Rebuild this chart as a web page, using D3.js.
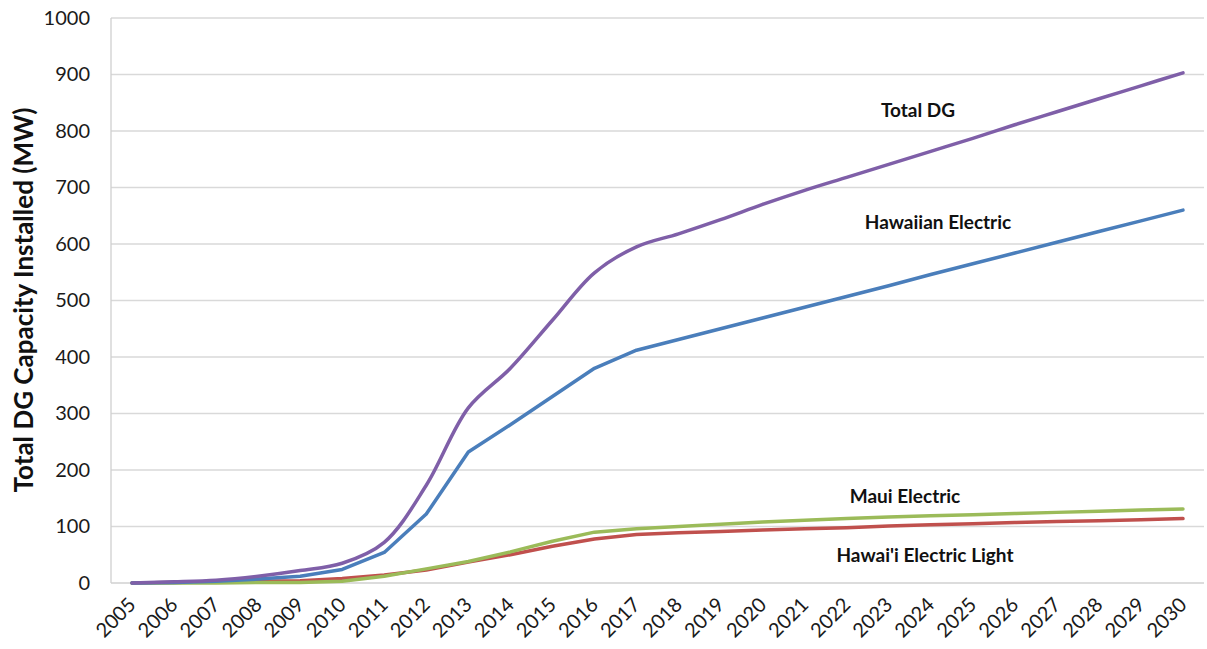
<!DOCTYPE html>
<html><head><meta charset="utf-8">
<script src="https://cdn.jsdelivr.net/npm/d3@7"></script>
<style>body{margin:0;background:#fff;}svg{display:block;}</style>
</head><body>
<svg id="c" width="1207" height="649"></svg>
<script>
const years = d3.range(2005, 2031).map(String);
const totalDG = [0,2,5,12,22,35,72,173,310,380,465,549,595,618,643,670,695,718,741,764,787,811,834,857,880,903];
const hawaiianElectric = [0,1,3,7,12,24,54,122,232,280,330,380,412,431,450,469,488,507,526,546,565,584,603,622,641,660];
const mauiElectric = [0,0,0,1,1,3,12,25,38,55,74,90,96,100,104,108,111,114,117,119,121,123,125,127,129,131];
const hawaiiElectricLight = [0,1,2,3,4,8,14,23,37,50,65,78,86,89,91,94,96,98,101,103,105,107,109,110,112,114];
const yTicks = [0,100,200,300,400,500,600,700,800,900,1000];

const svg = d3.select('#c');
const L=111, R=1204, T=18, B=583;
const x = d3.scaleBand().domain(years).range([L,R]);
const y = d3.scaleLinear().domain([0,1000]).range([B,T]);
const font = "Lato, 'Open Sans', sans-serif";

// gridlines
svg.append('g').selectAll('line').data(yTicks.slice(1)).join('line')
  .attr('x1',L).attr('x2',R).attr('y1',d=>y(d)).attr('y2',d=>y(d))
  .attr('stroke','#d9d9d9').attr('stroke-width',1.3);

// axes lines
svg.append('line').attr('x1',L).attr('x2',L).attr('y1',T).attr('y2',B).attr('stroke','#d0d0d0').attr('stroke-width',1.3);
svg.append('line').attr('x1',L).attr('x2',R).attr('y1',B).attr('y2',B).attr('stroke','#d0d0d0').attr('stroke-width',1.3);

// y axis labels
const ya = svg.append('g').attr('transform',`translate(${L},0)`)
  .call(d3.axisLeft(y).tickValues(yTicks).tickFormat(d3.format('d')).tickSize(0).tickPadding(21));
ya.select('.domain').remove();
ya.selectAll('text').attr('font-family',font).attr('font-size',20).attr('fill','#1a1a1a');

// x axis labels
const xa = svg.append('g').attr('transform',`translate(0,${B})`)
  .call(d3.axisBottom(x).tickSize(0).tickPadding(0));
xa.select('.domain').remove();
xa.selectAll('text').attr('font-family',font).attr('font-size',20).attr('fill','#1a1a1a')
  .attr('text-anchor','end').attr('dy',0).attr('y',0)
  .attr('transform','translate(5,23) rotate(-45)');

// y title
svg.append('text').attr('transform','translate(33,300) rotate(-90)')
  .attr('text-anchor','middle').attr('font-family',font).attr('font-weight','bold')
  .attr('font-size',26).attr('fill','#111').text('Total DG Capacity Installed (MW)');

const cx = d => x(d)+x.bandwidth()/2;
const series = [
  {vals:mauiElectric,color:'#9bbb59',curve:d3.curveLinear},
  {vals:hawaiiElectricLight,color:'#c0504d',curve:d3.curveLinear},
  {vals:hawaiianElectric,color:'#4a7ebb',curve:d3.curveLinear},
  {vals:totalDG,color:'#7f5fa8',curve:d3.curveCatmullRom},
];
const order=[series[1],series[0],series[2],series[3]];
order.forEach(s=>{
  const line=d3.line().x((d,i)=>cx(years[i])).y(d=>y(d)).curve(s.curve);
  svg.append('path').datum(s.vals).attr('d',line).attr('fill','none')
    .attr('stroke',s.color).attr('stroke-width',3.5).attr('stroke-linejoin','round').attr('stroke-linecap','round');
});

const labels=[
  {t:'Total DG',x:918,y:117},
  {t:'Hawaiian Electric',x:938,y:229},
  {t:'Maui Electric',x:905,y:503},
  {t:"Hawai'i Electric Light",x:925,y:562},
];
svg.append('g').selectAll('text').data(labels).join('text')
  .attr('x',d=>d.x).attr('y',d=>d.y).attr('text-anchor','middle')
  .attr('font-family',font).attr('font-weight','bold').attr('font-size',19).attr('fill','#111')
  .text(d=>d.t);
</script>
</body></html>
